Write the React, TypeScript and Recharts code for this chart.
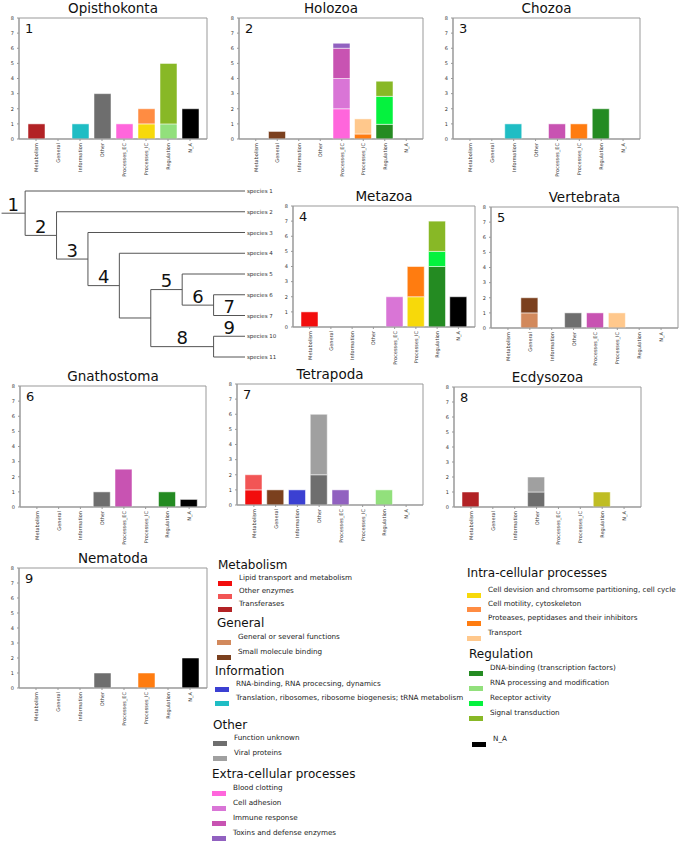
import { BarChart, Bar, XAxis, YAxis, CartesianGrid, ScatterChart, Scatter, ReferenceLine } from 'recharts';

const FONT = '"DejaVu Sans", sans-serif';

const categories = ['Metabolism', 'General', 'Information', 'Other', 'Processes_EC', 'Processes_IC', 'Regulation', 'N_A'];
const yTicks = [0, 1, 2, 3, 4, 5, 6, 7, 8];

// functional sub-types, in stacking (and legend) order
const subtypes = [
  { key: 'lipid', label: 'Lipid transport and metabolism', color: '#f20d0d' },
  { key: 'otherEnz', label: 'Other enzymes', color: '#f25555' },
  { key: 'transferases', label: 'Transferases', color: '#b22225' },
  { key: 'generalSeveral', label: 'General or several functions', color: '#d2895c' },
  { key: 'smallMol', label: 'Small molecule binding', color: '#7b401e' },
  { key: 'rnaBinding', label: 'RNA-binding, RNA procecsing, dynamics', color: '#3b40d2' },
  { key: 'translation', label: 'Translation, ribosomes, ribosome biogenesis; tRNA metabolism', color: '#1fbdc4' },
  { key: 'unknown', label: 'Function unknown', color: '#6e6e6e' },
  { key: 'viral', label: 'Viral proteins', color: '#a0a0a0' },
  { key: 'clotting', label: 'Blood clotting', color: '#ff66dc' },
  { key: 'adhesion', label: 'Cell adhesion', color: '#d975d6' },
  { key: 'immune', label: 'Immune response', color: '#c853b2' },
  { key: 'toxins', label: 'Toxins and defense enzymes', color: '#9161c0' },
  { key: 'division', label: 'Cell devision and chromsome partitioning, cell cycle', color: '#f7d90a' },
  { key: 'motility', label: 'Cell motility, cytoskeleton', color: '#ff8c42' },
  { key: 'proteases', label: 'Proteases, peptidases and their inhibitors', color: '#ff7c10' },
  { key: 'transport', label: 'Transport', color: '#ffc88c' },
  { key: 'dnaBinding', label: 'DNA-binding (transcription factors)', color: '#248b22' },
  { key: 'rnaProc', label: 'RNA processing and modification', color: '#92e07c' },
  { key: 'receptor', label: 'Receptor activity', color: '#05f23e' },
  { key: 'signal', label: 'Signal transduction', color: '#88b826' },
  { key: 'regOther', label: 'Regulation (other)', color: '#bfbd24' },
  { key: 'na', label: 'N_A', color: '#000000' },
];

type Count = [string, string, number];

const opisthokonta: Count[] = [
  ['Metabolism', 'transferases', 1],
  ['Information', 'translation', 1],
  ['Other', 'unknown', 3],
  ['Processes_EC', 'clotting', 1],
  ['Processes_IC', 'division', 1],
  ['Processes_IC', 'motility', 1],
  ['Regulation', 'rnaProc', 1],
  ['Regulation', 'signal', 4],
  ['N_A', 'na', 2],
];

const holozoa: Count[] = [
  ['General', 'smallMol', 0.5],
  ['Processes_EC', 'clotting', 2],
  ['Processes_EC', 'adhesion', 2],
  ['Processes_EC', 'immune', 2],
  ['Processes_EC', 'toxins', 0.33],
  ['Processes_IC', 'proteases', 0.33],
  ['Processes_IC', 'transport', 1],
  ['Regulation', 'dnaBinding', 0.97],
  ['Regulation', 'receptor', 1.85],
  ['Regulation', 'signal', 1],
];

const chozoa: Count[] = [
  ['Information', 'translation', 1],
  ['Processes_EC', 'immune', 1],
  ['Processes_IC', 'proteases', 1],
  ['Regulation', 'dnaBinding', 2],
];

const metazoa: Count[] = [
  ['Metabolism', 'lipid', 1],
  ['Processes_EC', 'adhesion', 2],
  ['Processes_IC', 'division', 2],
  ['Processes_IC', 'proteases', 2],
  ['Regulation', 'dnaBinding', 4],
  ['Regulation', 'receptor', 1],
  ['Regulation', 'signal', 2],
  ['N_A', 'na', 2],
];

const vertebrata: Count[] = [
  ['General', 'generalSeveral', 1],
  ['General', 'smallMol', 1],
  ['Other', 'unknown', 1],
  ['Processes_EC', 'immune', 1],
  ['Processes_IC', 'transport', 1],
];

const gnathostoma: Count[] = [
  ['Other', 'unknown', 1],
  ['Processes_EC', 'immune', 2.5],
  ['Regulation', 'dnaBinding', 1],
  ['N_A', 'na', 0.5],
];

const tetrapoda: Count[] = [
  ['Metabolism', 'lipid', 1],
  ['Metabolism', 'otherEnz', 1],
  ['General', 'smallMol', 1],
  ['Information', 'rnaBinding', 1],
  ['Other', 'unknown', 2],
  ['Other', 'viral', 4],
  ['Processes_EC', 'toxins', 1],
  ['Regulation', 'rnaProc', 1],
];

const ecdysozoa: Count[] = [
  ['Metabolism', 'transferases', 1],
  ['Other', 'unknown', 1],
  ['Other', 'viral', 1],
  ['Regulation', 'regOther', 1],
];

const nematoda: Count[] = [
  ['Other', 'unknown', 1],
  ['Processes_IC', 'proteases', 1],
  ['N_A', 'na', 2],
];

// tree: leaves and internal nodes (depth along x, position along y)
const treeNodes = [
  { id: 'n1', parent: '', depth: 0, y: 1.07, name: '', tag: '1' },
  { id: 's1', parent: 'n1', depth: 7, y: 0, name: 'species 1', tag: '' },
  { id: 'n2', parent: 'n1', depth: 1, y: 2.14, name: '', tag: '2' },
  { id: 's2', parent: 'n2', depth: 7, y: 1, name: 'species 2', tag: '' },
  { id: 'n3', parent: 'n2', depth: 2, y: 3.28, name: '', tag: '3' },
  { id: 's3', parent: 'n3', depth: 7, y: 2, name: 'species 3', tag: '' },
  { id: 'n4', parent: 'n3', depth: 3, y: 4.56, name: '', tag: '4' },
  { id: 's4', parent: 'n4', depth: 7, y: 3, name: 'species 4', tag: '' },
  { id: 'nx', parent: 'n4', depth: 4, y: 6.12, name: '', tag: '' },
  { id: 'n5', parent: 'nx', depth: 5, y: 4.75, name: '', tag: '5' },
  { id: 's5', parent: 'n5', depth: 7, y: 4, name: 'species 5', tag: '' },
  { id: 'n6', parent: 'n5', depth: 6, y: 5.5, name: '', tag: '6' },
  { id: 's6', parent: 'n6', depth: 7, y: 5, name: 'species 6', tag: '' },
  { id: 's7', parent: 'n6', depth: 7, y: 6, name: 'species 7', tag: '7' },
  { id: 'n8', parent: 'nx', depth: 6, y: 7.5, name: '', tag: '8' },
  { id: 's10', parent: 'n8', depth: 7, y: 7, name: 'species 10', tag: '9' },
  { id: 's11', parent: 'n8', depth: 7, y: 8, name: 'species 11', tag: '' },
];
const rootStart = -0.75;

const panels = [
  { title: 'Opisthokonta', num: '1', left: 19, top: 18, w: 188, h: 121, counts: opisthokonta },
  { title: 'Holozoa', num: '2', left: 239, top: 18, w: 184, h: 121, counts: holozoa },
  { title: 'Chozoa', num: '3', left: 453, top: 18, w: 187, h: 121, counts: chozoa },
  { title: 'Metazoa', num: '4', left: 293, top: 206, w: 182, h: 121, counts: metazoa },
  { title: 'Vertebrata', num: '5', left: 491, top: 207, w: 187, h: 121, counts: vertebrata },
  { title: 'Gnathostoma', num: '6', left: 20, top: 386, w: 186, h: 121, counts: gnathostoma },
  { title: 'Tetrapoda', num: '7', left: 237, top: 384, w: 186, h: 121, counts: tetrapoda },
  { title: 'Ecdysozoa', num: '8', left: 454, top: 387, w: 187, h: 120, counts: ecdysozoa },
  { title: 'Nematoda', num: '9', left: 19, top: 568, w: 188, h: 120, counts: nematoda },
];

const legendLeft = [
  { title: 'Metabolism', x: 218, y: 565, keys: ['lipid', 'otherEnz', 'transferases'], rows: [578, 591, 604] },
  { title: 'General', x: 217, y: 623, keys: ['generalSeveral', 'smallMol'], rows: [637, 652] },
  { title: 'Information', x: 215, y: 671, keys: ['rnaBinding', 'translation'], rows: [684, 698] },
  { title: 'Other', x: 213, y: 725, keys: ['unknown', 'viral'], rows: [738, 753] },
  { title: 'Extra-cellular processes', x: 212, y: 774, keys: ['clotting', 'adhesion', 'immune', 'toxins'], rows: [788, 803, 818, 833] },
];
const legendRight = [
  { title: 'Intra-cellular processes', x: 467, y: 573, keys: ['division', 'motility', 'proteases', 'transport'], rows: [590, 604, 618, 633] },
  { title: 'Regulation', x: 469, y: 654, keys: ['dnaBinding', 'rnaProc', 'receptor', 'signal'], rows: [668, 683, 698, 713] },
  { title: '', x: 472, y: 0, keys: ['na'], rows: [739] },
];

const subtypeOf = (k: string) => subtypes.find((s) => s.key === k)!;

function buildTable(counts: Count[]) {
  return categories.map((cat) => {
    const row: Record<string, any> = { cat };
    counts.filter((c) => c[0] === cat).forEach((c) => { row[c[1]] = c[2]; });
    return row;
  });
}

const XTick = (props: any) => {
  const { x, y, payload } = props;
  return (
    <text x={x} y={y} transform={`rotate(-90 ${x} ${y})`} textAnchor="end" dominantBaseline="central"
      fontSize={5} fill="#333" fontFamily={FONT}>
      {payload.value}
    </text>
  );
};

// frame around the plot area, like the matplotlib axes box
const frameH = ({ offset }: any) => [offset.top, offset.top + offset.height];
const frameV = ({ offset }: any) => [offset.left, offset.left + offset.width];

function Panel({ p }: { p: typeof panels[number] }) {
  const data = buildTable(p.counts);
  const used = subtypes.filter((s) => p.counts.some((c) => c[1] === s.key));
  return (
    <>
      <div style={{ position: 'absolute', left: p.left - 20, top: p.top - 2 }}>
        <BarChart width={p.w + 22} height={p.h + 47} data={data} barSize={17}
          margin={{ top: 2, right: 2, left: 0, bottom: 0 }}>
          <CartesianGrid stroke="#999" horizontalCoordinatesGenerator={frameH} verticalCoordinatesGenerator={frameV} />
          <XAxis dataKey="cat" interval={0} height={45} padding={{ left: 6, right: 6 }}
            tick={<XTick />} tickSize={2} tickMargin={2} stroke="#999" />
          <YAxis domain={[0, 8]} ticks={yTicks} width={20} tickSize={2} tickMargin={3} stroke="#999"
            tick={{ fontSize: 5, fill: '#333', fontFamily: FONT }} />
          {used.map((s) => (
            <Bar key={s.key} dataKey={s.key} stackId="s" fill={s.color} stroke="#ffffff" strokeOpacity={0.5}
              strokeWidth={1} isAnimationActive={false} />
          ))}
        </BarChart>
      </div>
      <div style={{ position: 'absolute', left: p.left, top: p.top - 19, width: p.w, textAlign: 'center',
        fontSize: 13.5, lineHeight: '18px', color: '#111' }}>{p.title}</div>
      <div style={{ position: 'absolute', left: p.left + 6, top: p.top + 3, fontSize: 13, lineHeight: '16px',
        color: '#111' }}>{p.num}</div>
    </>
  );
}

function Tree() {
  const byId = Object.fromEntries(treeNodes.map((n) => [n.id, n]));
  const segs: { x1: number; y1: number; x2: number; y2: number }[] = [];
  treeNodes.forEach((n) => {
    const from = n.parent ? byId[n.parent].depth : rootStart;
    segs.push({ x1: from, y1: n.y, x2: n.depth, y2: n.y });
    const kids = treeNodes.filter((k) => k.parent === n.id);
    if (kids.length) {
      const ys = kids.map((k) => k.y);
      segs.push({ x1: n.depth, y1: Math.min(...ys), x2: n.depth, y2: Math.max(...ys) });
    }
  });
  const leaves = treeNodes.filter((n) => n.name);
  const tags = treeNodes.filter((n) => n.tag).map((n) => ({
    x: ((n.parent ? byId[n.parent].depth : rootStart) + n.depth) / 2, y: n.y, tag: n.tag,
  }));
  return (
    <div style={{ position: 'absolute', left: 0, top: 171 }}>
      <ScatterChart width={285} height={196} margin={{ top: 20, right: 40, left: 0, bottom: 10 }}>
        <XAxis type="number" dataKey="x" domain={[-0.8, 7]} hide />
        <YAxis type="number" dataKey="y" domain={[0, 8]} reversed hide />
        {segs.map((s, i) => (
          <ReferenceLine key={i} segment={[{ x: s.x1, y: s.y1 }, { x: s.x2, y: s.y2 }]} stroke="#555" strokeWidth={1} />
        ))}
        <Scatter data={leaves.map((l) => ({ x: l.depth, y: l.y, name: l.name }))} isAnimationActive={false}
          shape={(pr: any) => (
            <text x={pr.cx + 2} y={pr.cy} dominantBaseline="central" fontSize={5.5} fill="#333" fontFamily={FONT}>
              {pr.payload.name}
            </text>
          )} />
        <Scatter data={tags} isAnimationActive={false}
          shape={(pr: any) => (
            <text x={pr.cx} y={pr.cy - 2.5} textAnchor="middle" fontSize={18} fill="#111" fontFamily={FONT}>
              {pr.payload.tag}
            </text>
          )} />
      </ScatterChart>
    </div>
  );
}

function LegendBlock({ g }: { g: typeof legendLeft[number] }) {
  return (
    <>
      {g.title && (
        <div style={{ position: 'absolute', left: g.x, top: g.y - 8, fontSize: 12, lineHeight: '16px', color: '#111',
          whiteSpace: 'nowrap' }}>{g.title}</div>
      )}
      {g.keys.map((k, i) => {
        const s = subtypeOf(k);
        return (
          <div key={k}>
            <div style={{ position: 'absolute', left: g.x, top: g.rows[i] + 3, width: 14, height: 5,
              background: s.color }} />
            <div style={{ position: 'absolute', left: g.x + 21, top: g.rows[i] - 5, fontSize: 7.2, lineHeight: '10px',
              color: '#222', whiteSpace: 'nowrap' }}>{s.label}</div>
          </div>
        );
      })}
    </>
  );
}

export default function App() {
  return (
    <div style={{ position: 'absolute', left: 0, top: 0, width: 685, height: 844, background: '#fff',
      fontFamily: FONT, overflow: 'hidden' }}>
      <Tree />
      {panels.map((p) => <Panel key={p.num} p={p} />)}
      {legendLeft.map((g) => <LegendBlock key={g.title} g={g} />)}
      {legendRight.map((g) => <LegendBlock key={g.title || 'na'} g={g} />)}
    </div>
  );
}
